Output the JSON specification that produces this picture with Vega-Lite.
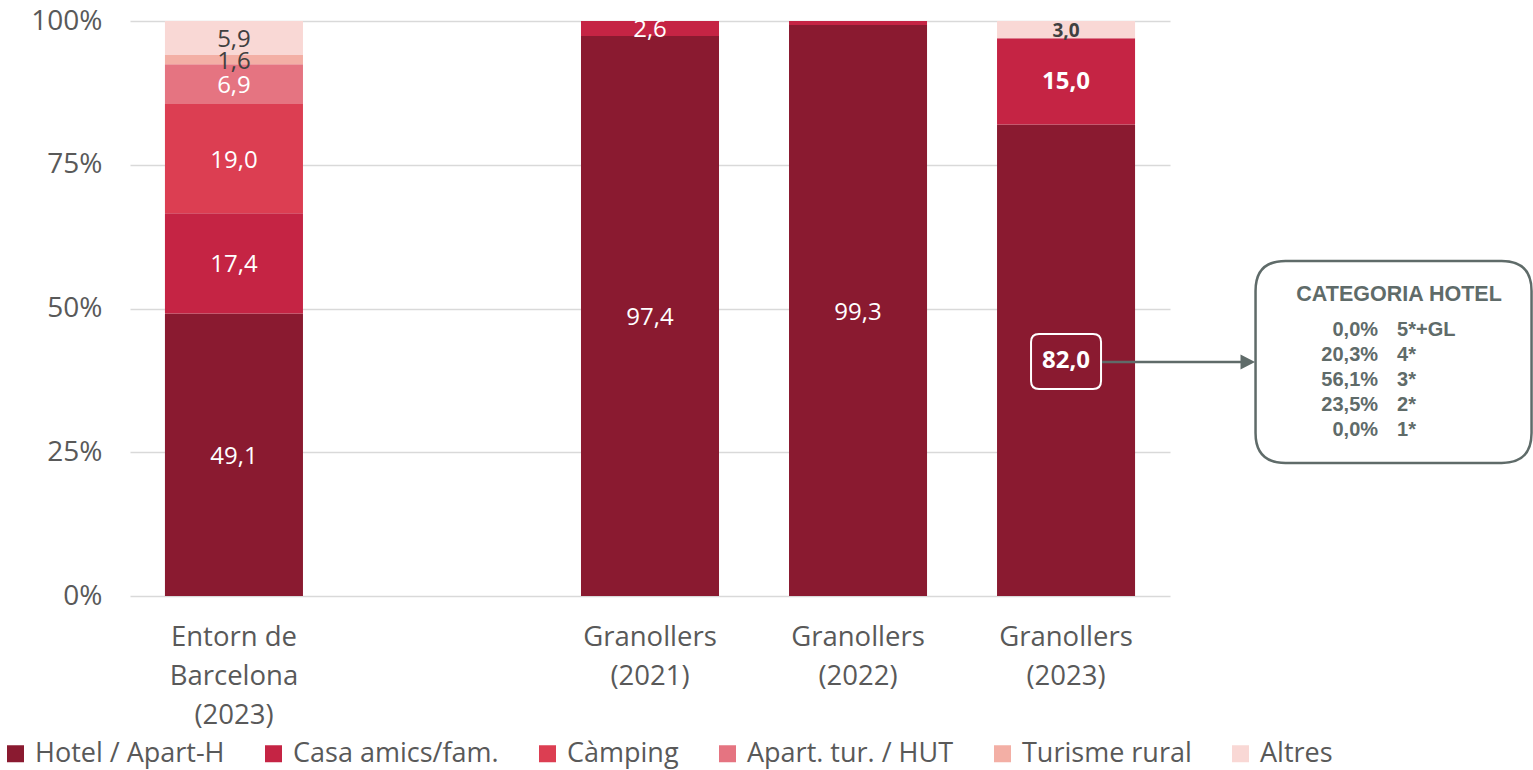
{
  "$schema": "https://vega.github.io/schema/vega-lite/v6.json",
  "width": 1040,
  "height": 575,
  "autosize": {"type": "none"},
  "padding": {"left": 130, "top": 21, "right": 363, "bottom": 174},
  "background": "white",
  "config": {
    "view": {"stroke": null},
    "font": "Open Sans",
    "locale": {"number": {"decimal": ",", "thousands": ".", "grouping": [3], "currency": ["", " €"]}}
  },
  "datasets": {
    "shares": [
      {"bar": "Entorn de Barcelona (2023)", "type": "Hotel / Apart-H", "value": 49.1},
      {"bar": "Entorn de Barcelona (2023)", "type": "Casa amics/fam.", "value": 17.4},
      {"bar": "Entorn de Barcelona (2023)", "type": "Càmping", "value": 19.0},
      {"bar": "Entorn de Barcelona (2023)", "type": "Apart. tur. / HUT", "value": 6.9},
      {"bar": "Entorn de Barcelona (2023)", "type": "Turisme rural", "value": 1.6},
      {"bar": "Entorn de Barcelona (2023)", "type": "Altres", "value": 5.9},
      {"bar": "Granollers (2021)", "type": "Hotel / Apart-H", "value": 97.4},
      {"bar": "Granollers (2021)", "type": "Casa amics/fam.", "value": 2.6},
      {"bar": "Granollers (2022)", "type": "Hotel / Apart-H", "value": 99.3},
      {"bar": "Granollers (2022)", "type": "Casa amics/fam.", "value": 0.7},
      {"bar": "Granollers (2023)", "type": "Hotel / Apart-H", "value": 82.0},
      {"bar": "Granollers (2023)", "type": "Casa amics/fam.", "value": 15.0},
      {"bar": "Granollers (2023)", "type": "Altres", "value": 3.0}
    ],
    "hotelcat": [
      {"cat": "5*+GL", "pct": 0.0},
      {"cat": "4*", "pct": 0.203},
      {"cat": "3*", "pct": 0.561},
      {"cat": "2*", "pct": 0.235},
      {"cat": "1*", "pct": 0.0}
    ]
  },
  "layer": [
    {
      "data": {"name": "shares"},
      "transform": [
        {"calculate": "indexof(['Hotel / Apart-H','Casa amics/fam.','Càmping','Apart. tur. / HUT','Turisme rural','Altres'], datum.type)", "as": "ord"},
        {"stack": "value", "groupby": ["bar"], "sort": [{"field": "ord", "order": "ascending"}], "offset": "normalize", "as": ["y0", "y1"]},
        {"calculate": "(datum.y0 + datum.y1) / 2", "as": "mid"}
      ],
      "layer": [
        {
          "mark": {"type": "bar"},
          "encoding": {
            "x": {
              "field": "bar", "type": "nominal",
              "scale": {"domain": ["Entorn de Barcelona (2023)", "_gap", "Granollers (2021)", "Granollers (2022)", "Granollers (2023)"], "paddingInner": 0.3365, "paddingOuter": 0.168},
              "axis": {
                "title": null, "domain": false, "ticks": false, "labelAngle": 0,
                "labelFont": "Open Sans", "labelFontSize": 27.5, "labelColor": "#595959",
                "labelLineHeight": 39, "labelPadding": 27, "labelLimit": 0, "labelOverlap": false,
                "labelExpr": "datum.value == 'Entorn de Barcelona (2023)' ? ['Entorn de', 'Barcelona', '(2023)'] : (datum.value == '_gap' ? '' : split(datum.value, ' '))"
              }
            },
            "y": {
              "field": "y0", "type": "quantitative",
              "scale": {"domain": [0, 1], "nice": false},
              "axis": {
                "title": null, "domain": false, "ticks": false,
                "values": [0, 0.25, 0.5, 0.75, 1], "format": ".0%",
                "labelFont": "Open Sans", "labelFontSize": 28, "labelColor": "#595959", "labelPadding": 28,
                "gridColor": "#d9d9d9", "gridWidth": 1.5
              }
            },
            "y2": {"field": "y1"},
            "color": {
              "field": "type", "type": "nominal",
              "scale": {
                "domain": ["Hotel / Apart-H", "Casa amics/fam.", "Càmping", "Apart. tur. / HUT", "Turisme rural", "Altres"],
                "range": ["#8a1a30", "#c52444", "#dc3e52", "#e57481", "#f3afa5", "#f9d8d5"]
              },
              "legend": {
                "orient": "none", "legendX": -128, "legendY": 719, "direction": "horizontal",
                "title": null, "symbolType": "square", "symbolSize": 289, "symbolStrokeWidth": 0,
                "symbolOpacity": 1, "labelFont": "Open Sans", "labelFontSize": 27, "labelColor": "#595959",
                "columnPadding": 35, "labelOffset": 6, "labelLimit": 400, "padding": 0
              }
            }
          }
        },
        {
          "transform": [{"filter": "datum.bar != 'Granollers (2023)' && datum.value >= 1"}],
          "mark": {"type": "text", "font": "Open Sans", "fontSize": 24, "baseline": "middle", "align": "center", "dy": 2},
          "encoding": {
            "x": {"field": "bar", "type": "nominal"},
            "y": {"field": "mid", "type": "quantitative"},
            "text": {"field": "value", "type": "quantitative", "format": ".1f"},
            "color": {"condition": {"test": "datum.type == 'Turisme rural' || datum.type == 'Altres'", "value": "#404040"}, "value": "white"}
          }
        },
        {
          "transform": [{"filter": "datum.bar == 'Granollers (2023)'"}],
          "mark": {"type": "text", "font": "Open Sans", "fontWeight": "bold", "baseline": "middle", "align": "center", "dy": 1},
          "encoding": {
            "x": {"field": "bar", "type": "nominal"},
            "y": {"field": "mid", "type": "quantitative"},
            "text": {"field": "value", "type": "quantitative", "format": ".1f"},
            "size": {"condition": {"test": "datum.type == 'Altres'", "value": 19}, "value": 24},
            "color": {"condition": {"test": "datum.type == 'Altres'", "value": "#404040"}, "value": "white"}
          }
        },
        {
          "transform": [{"filter": "datum.bar == 'Granollers (2023)' && datum.type == 'Hotel / Apart-H'"}],
          "layer": [
            {
              "mark": {"type": "point", "shape": "M -0.771,-0.786 L 0.771,-0.786 Q 1,-0.786 1,-0.557 L 1,0.557 Q 1,0.786 0.771,0.786 L -0.771,0.786 Q -1,0.786 -1,0.557 L -1,-0.557 Q -1,-0.786 -0.771,-0.786 Z", "size": 4900, "filled": false, "stroke": "white", "strokeWidth": 2, "opacity": 1},
              "encoding": {
                "x": {"field": "bar", "type": "nominal"},
                "y": {"datum": 0.408, "type": "quantitative"}
              }
            },
            {
              "mark": {"type": "point", "shape": "M -1,-0.016 L 0.81,-0.016 L 0.81,-0.098 L 1,0 L 0.81,0.098 L 0.81,0.016 L -1,0.016 Z", "size": 23409, "filled": true, "fill": "#5f6b69", "strokeWidth": 0, "opacity": 1, "xOffset": 112.5},
              "encoding": {
                "x": {"field": "bar", "type": "nominal"},
                "y": {"datum": 0.407, "type": "quantitative"}
              }
            },
            {
              "mark": {"type": "point", "shape": "M -0.783,-0.732 L 0.783,-0.732 Q 1,-0.732 1,-0.515 L 1,0.515 Q 1,0.732 0.783,0.732 L -0.783,0.732 Q -1,0.732 -1,0.515 L -1,-0.515 Q -1,-0.732 -0.783,-0.732 Z", "size": 76176, "filled": false, "stroke": "#5f6b69", "strokeWidth": 2.5, "opacity": 1, "xOffset": 327.5},
              "encoding": {
                "x": {"field": "bar", "type": "nominal"},
                "y": {"datum": 0.407, "type": "quantitative"}
              }
            },
            {
              "mark": {"type": "text", "text": "CATEGORIA HOTEL", "font": "Liberation Sans", "fontWeight": "bold", "fontSize": 21.5, "color": "#5f6b69", "align": "center", "baseline": "middle", "xOffset": 333},
              "encoding": {
                "x": {"field": "bar", "type": "nominal"},
                "y": {"datum": 0.5235, "type": "quantitative"}
              }
            }
          ]
        }
      ]
    },
    {
      "data": {"name": "hotelcat"},
      "encoding": {
        "x": {"datum": "Granollers (2023)", "type": "nominal"},
        "y": {"field": "cat", "type": "ordinal", "scale": {"type": "point", "domain": ["5*+GL", "4*", "3*", "2*", "1*"], "range": [309, 409], "padding": 0}, "axis": null}
      },
      "layer": [
        {
          "mark": {"type": "text", "font": "Liberation Sans", "fontWeight": "bold", "fontSize": 20, "color": "#5f6b69", "align": "right", "baseline": "middle", "xOffset": 312},
          "encoding": {"text": {"field": "pct", "type": "quantitative", "format": ".1%"}}
        },
        {
          "mark": {"type": "text", "font": "Liberation Sans", "fontWeight": "bold", "fontSize": 20, "color": "#5f6b69", "align": "left", "baseline": "middle", "xOffset": 331},
          "encoding": {"text": {"field": "cat", "type": "nominal"}}
        }
      ]
    }
  ],
  "resolve": {"scale": {"y": "independent"}}
}
